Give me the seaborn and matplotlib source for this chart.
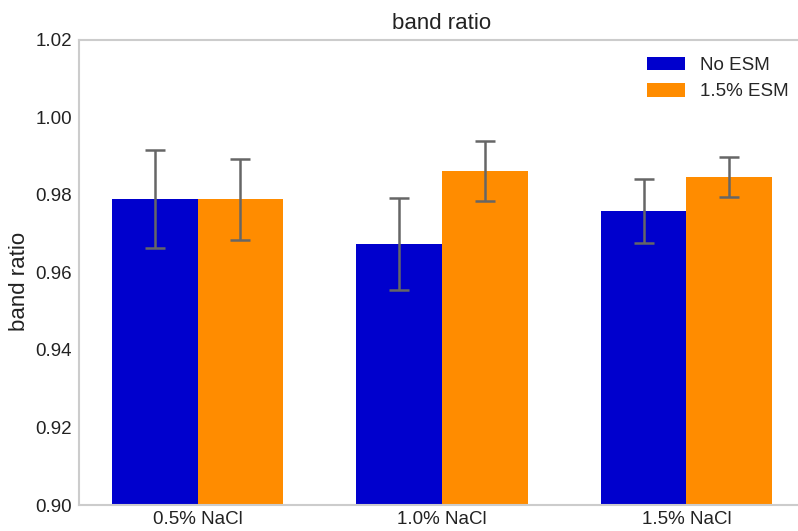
import pandas as pd
import numpy as np
import matplotlib
matplotlib.use('Agg')
import matplotlib.pyplot as plt
import seaborn as sns

# данные
categories = ['0.5% NaCl', '1.0% NaCl', '1.5% NaCl']
groups = ['No ESM', '1.5% ESM']
no_esm = [0.9789, 0.9674, 0.9758]
no_esm_err = [0.0126, 0.0119, 0.0083]
esm = [0.9789, 0.9862, 0.9846]
esm_err = [0.0105, 0.0078, 0.0051]
colors = ['#0000CD', '#FF8C00']

df = pd.DataFrame({
    'salt': categories * 2,
    'group': [groups[0]] * 3 + [groups[1]] * 3,
    'ratio': no_esm + esm,
})
errors = {groups[0]: no_esm_err, groups[1]: esm_err}

sns.set_style('white')
plt.rcParams['font.family'] = ['Liberation Sans', 'DejaVu Sans']

fig = plt.figure(figsize=(7.98, 5.31), dpi=100)
ax = fig.add_axes([79 / 798, 26 / 531, 726 / 798, 465 / 531])

sns.barplot(data=df, x='salt', y='ratio', hue='group', hue_order=groups,
            palette=colors, width=0.7, errorbar=None, linewidth=0,
            saturation=1, ax=ax)

# планки погрешностей
for container, g in zip(ax.containers, groups):
    xs = [b.get_x() + b.get_width() / 2 for b in container]
    ys = [b.get_height() for b in container]
    ax.errorbar(xs, ys, yerr=errors[g], fmt='none', ecolor='#666666',
                elinewidth=1.8, capsize=7, capthick=1.8)

ax.set_xlim(-0.485, 2.485)
ax.set_ylim(0.90, 1.02)
ax.set_yticks(np.arange(0.90, 1.0201, 0.02))
ax.yaxis.set_major_formatter(matplotlib.ticker.FormatStrFormatter('%.2f'))
ax.tick_params(length=0, labelsize=13.5, colors='#222222')
ax.tick_params(axis='y', pad=5)
ax.tick_params(axis='x', pad=4)
ax.set_xlabel('')
ax.set_ylabel('band ratio', fontsize=16, color='#222222')
ax.yaxis.set_label_coords(-0.068, 0.48)
ax.set_title('band ratio', fontsize=16, pad=8, color='#222222')

for side in ['left', 'top', 'bottom']:
    ax.spines[side].set_color('#cccccc')
    ax.spines[side].set_linewidth(1.5)
ax.spines['right'].set_visible(False)

ax.legend(frameon=False, loc='upper right', fontsize=13.5, title=None)

fig.savefig('out.png', dpi=100)
